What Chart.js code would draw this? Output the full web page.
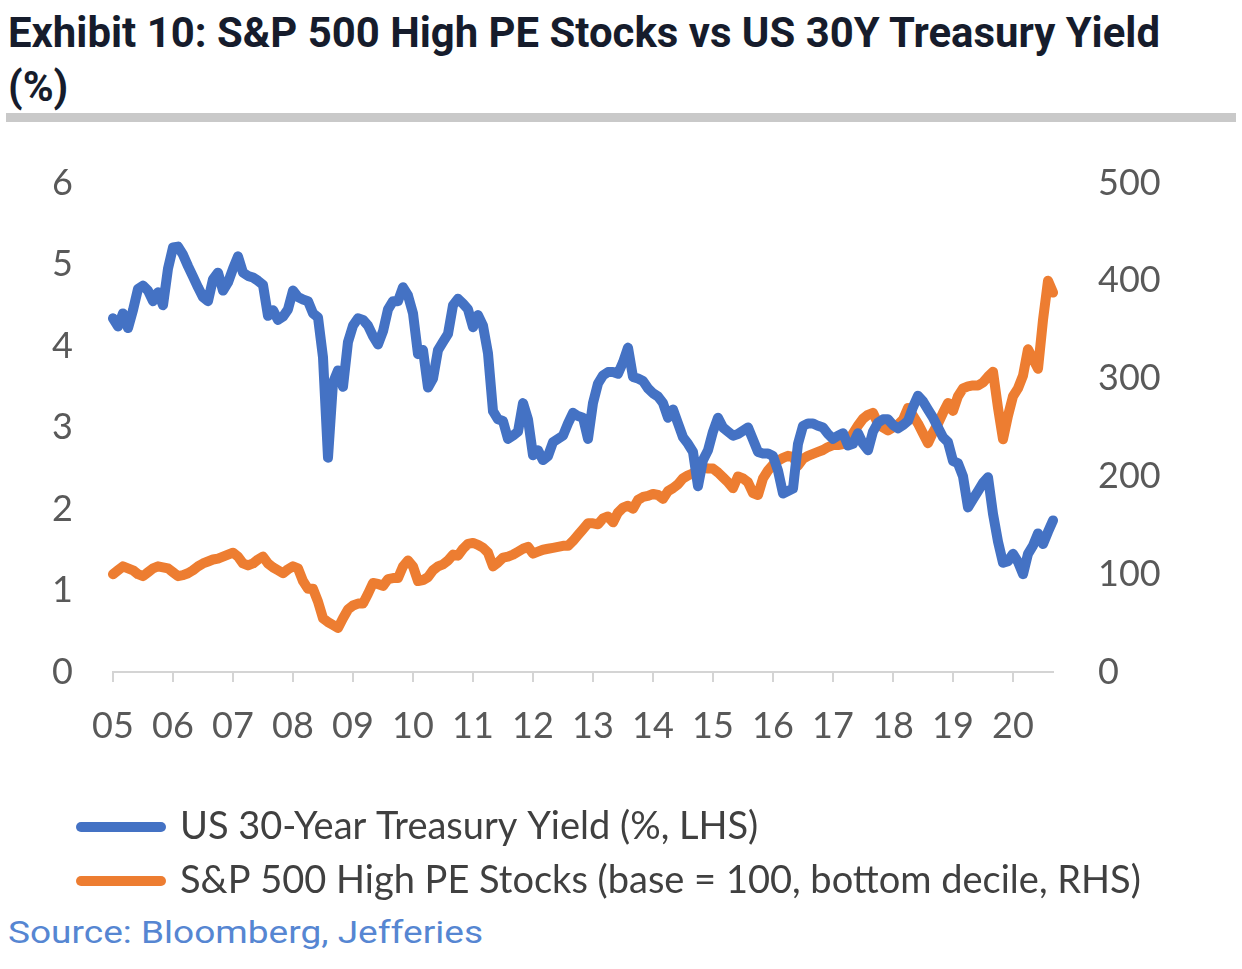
<!DOCTYPE html>
<html>
<head>
<meta charset="utf-8">
<script src="https://cdn.jsdelivr.net/npm/chart.js@4.4.1/dist/chart.umd.min.js"></script>
<style>
  body { margin: 0; background: #fff; width: 1242px; height: 969px; overflow: hidden; position: relative; }
  #title { position: absolute; left: 8px; top: 6px; font: bold 42px Roboto; color: #161c2c; line-height: 54px; transform-origin: 0 0; white-space: nowrap; }
  #title span { display: inline-block; }
  #rule { position: absolute; left: 6px; top: 113px; width: 1230px; height: 9px; background: #c9c9c9; }
  #wrap { position: absolute; left: 0; top: 130px; width: 1242px; height: 780px; }
  #source { position: absolute; left: 8px; top: 913px; font: 32px Roboto; color: #5686d2; transform-origin: 0 0; white-space: nowrap; }
</style>
</head>
<body>
<div id="title"><span id="t1">Exhibit 10: S&amp;P 500 High PE Stocks vs US 30Y Treasury Yield</span><br><span>(%)</span></div>
<div id="rule"></div>
<div id="wrap"><canvas id="g_chart"></canvas></div>
<div id="source"><span id="s1">Source: Bloomberg, Jefferies</span></div>
<script>
// monthly, Jan 2005 onwards
const startYear = 2005
const yearLabels = ["05", "06", "07", "08", "09", "10", "11", "12", "13", "14", "15", "16", "17", "18", "19", "20"]

// US 30-Year Treasury Yield (%, LHS)
const yield30 = [
    4.34, 4.24, 4.40, 4.22, 4.44, 4.70, 4.74, 4.68, 4.55, 4.66,
    4.50, 4.95, 5.21, 5.22, 5.12, 4.98, 4.85, 4.72, 4.60, 4.55,
    4.82, 4.90, 4.68, 4.78, 4.95, 5.10, 4.90, 4.86, 4.84, 4.80,
    4.75, 4.37, 4.44, 4.32, 4.36, 4.45, 4.68, 4.60, 4.57, 4.55,
    4.40, 4.35, 3.86, 2.63, 3.55, 3.70, 3.50, 4.05, 4.25, 4.34,
    4.32, 4.25, 4.12, 4.02, 4.18, 4.45, 4.55, 4.55, 4.72, 4.62,
    4.40, 3.90, 3.95, 3.49, 3.60, 3.95, 4.05, 4.15, 4.50, 4.58,
    4.52, 4.45, 4.23, 4.38, 4.25, 3.91, 3.20, 3.10, 3.08, 2.86,
    2.90, 2.95, 3.30, 3.10, 2.66, 2.72, 2.60, 2.65, 2.82, 2.86,
    2.90, 3.05, 3.18, 3.14, 3.12, 2.86, 3.30, 3.54, 3.64, 3.68,
    3.68, 3.66, 3.80, 3.98, 3.62, 3.60, 3.57, 3.48, 3.42, 3.38,
    3.30, 3.12, 3.22, 3.05, 2.88, 2.80, 2.70, 2.28, 2.60, 2.72,
    2.95, 3.12, 3.00, 2.95, 2.90, 2.92, 2.96, 3.00, 2.85, 2.70,
    2.68, 2.68, 2.65, 2.47, 2.19, 2.22, 2.25, 2.80, 3.02, 3.05,
    3.05, 3.02, 3.00, 2.92, 2.86, 2.90, 2.93, 2.78, 2.80, 2.93,
    2.80, 2.72, 2.95, 3.06, 3.10, 3.10, 3.03, 2.99, 3.03, 3.08,
    3.25, 3.39, 3.32, 3.22, 3.12, 3.00, 2.88, 2.82, 2.59, 2.56,
    2.40, 2.02, 2.12, 2.22, 2.32, 2.39, 1.94, 1.60, 1.34, 1.36,
    1.45, 1.35, 1.20, 1.45, 1.55, 1.70, 1.57, 1.72, 1.86
]

// S&P 500 High PE Stocks (base = 100, bottom decile, RHS)
const highPe = [
    100, 104, 108, 106, 104, 100, 98, 102, 106, 108,
    107, 106, 102, 98, 99, 101, 104, 108, 111, 113,
    115, 116, 118, 120, 122, 118, 111, 109, 111, 115,
    118, 111, 107, 104, 101, 105, 108, 106, 93, 85,
    85, 72, 55, 51, 48, 45, 55, 64, 68, 70,
    70, 80, 91, 90, 88, 95, 96, 96, 108, 114,
    108, 93, 94, 97, 104, 108, 110, 114, 120, 119,
    126, 131, 132, 130, 127, 122, 108, 112, 117, 118,
    120, 123, 126, 128, 121, 123, 125, 126, 127, 128,
    129, 129, 134, 140, 146, 152, 152, 151, 157, 159,
    153, 163, 168, 170, 167, 176, 179, 180, 182, 181,
    177, 185, 188, 192, 198, 201, 203, 206, 209, 208,
    208, 204, 199, 194, 188, 200, 198, 194, 183, 181,
    198, 206, 212, 216, 219, 221, 220, 211, 218, 221,
    223, 225, 227, 230, 232, 232, 233, 236, 244, 252,
    259, 263, 265, 254, 250, 247, 250, 253, 258, 270,
    262, 254, 244, 234, 245, 254, 265, 275, 267, 282,
    290, 292, 293, 293, 296, 302, 307, 270, 238, 262,
    282, 290, 303, 330, 320, 310, 360, 400, 388
]

const months = yield30.map((_, i) => (startYear + Math.floor(i / 12)) + "-" + String(i % 12 + 1).padStart(2, "0"))

// squeeze title / source to the reference widths
const fitWidth = (boxId, spanId, w) => {
    const box = document.getElementById(boxId)
    const width = document.getElementById(spanId).getBoundingClientRect().width
    box.style.transform = "scaleX(" + (w / width) + ")"
}
fitWidth("title", "t1", 1152)
fitWidth("source", "s1", 475)

const tickFont = { family: "Lato", size: 36 }
const tickColor = "#595959"

// legend sits further right than the left axis box
const legendShift = {
    id: "legendShift",
    afterLayout: chart => { chart.legend.left = 65 }
}

// fixed axis width, and no extra top/bottom room from tick padding
const fixY = w => s => {
    s.width = w
    s.paddingTop = 0
    s.paddingBottom = 0
}

const g_chart = document.getElementById("g_chart")

new Chart(g_chart, {
    type: "line",
    data: {
        labels: months,
        datasets: [
            {
                label: "US 30-Year Treasury Yield (%, LHS)",
                data: yield30,
                yAxisID: "y",
                borderColor: "#4472c4",
                backgroundColor: "#4472c4",
                borderWidth: 10
            },
            {
                label: "S&P 500 High PE Stocks (base = 100, bottom decile, RHS)",
                data: highPe,
                yAxisID: "y1",
                borderColor: "#ed7d31",
                backgroundColor: "#ed7d31",
                borderWidth: 10
            }
        ]
    },
    options: {
        responsive: true,
        maintainAspectRatio: false,
        animation: false,
        elements: {
            point: { radius: 0 },
            line: { tension: 0, borderJoinStyle: "round", borderCapStyle: "round" }
        },
        layout: { padding: { left: 0, right: 0, top: 53, bottom: 0 } },
        scales: {
            x: {
                offset: false,
                border: { display: true, color: "#d4d4d4", width: 2 },
                grid: { drawOnChartArea: false, drawTicks: true, tickLength: 10, color: "#d4d4d4", lineWidth: 2 },
                ticks: {
                    autoSkip: false,
                    maxRotation: 0,
                    padding: 23,
                    color: tickColor,
                    font: tickFont,
                    callback: (val, i) => i % 12 === 0 ? yearLabels[i / 12] : null
                },
                afterFit: s => { s.height = 120 }
            },
            y: {
                position: "left",
                min: 0,
                max: 6,
                border: { display: false },
                grid: { display: false, drawTicks: false },
                ticks: { stepSize: 1, padding: 40, color: tickColor, font: tickFont },
                afterFit: fixY(113)
            },
            y1: {
                position: "right",
                min: 0,
                max: 500,
                border: { display: false },
                grid: { display: false, drawTicks: false },
                ticks: { stepSize: 100, padding: 45, color: tickColor, font: tickFont },
                afterFit: fixY(189)
            }
        },
        plugins: {
            legend: {
                position: "bottom",
                align: "start",
                labels: {
                    usePointStyle: true,
                    pointStyle: "line",
                    pointStyleWidth: 80,
                    padding: 16,
                    color: "#404040",
                    font: { family: "Lato", size: 38 },
                    generateLabels: chart => Chart.defaults.plugins.legend.labels.generateLabels(chart)
                        .map(item => Object.assign(item, { lineCap: "round", lineWidth: 10 }))
                }
            },
            tooltip: { enabled: false }
        }
    },
    plugins: [legendShift]
})
</script>
</body>
</html>
